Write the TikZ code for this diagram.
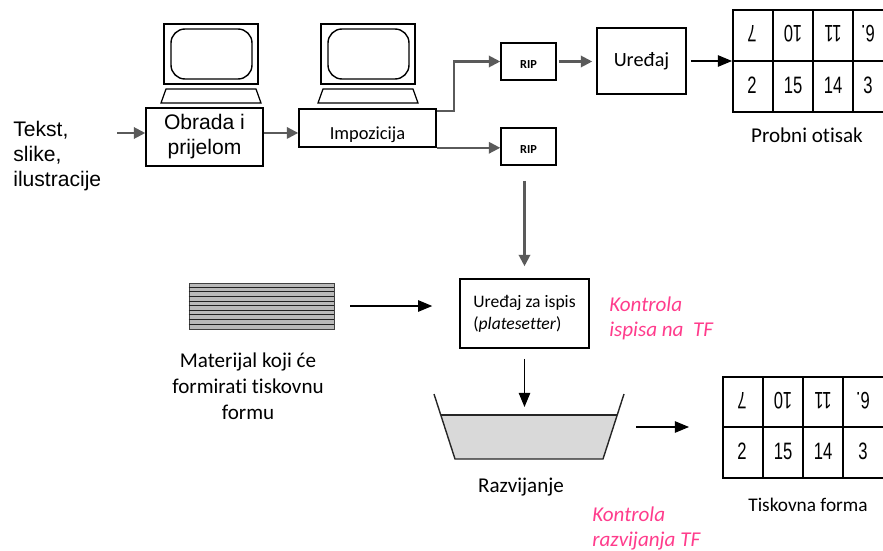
\documentclass[tikz,border=0pt]{standalone}
\usepackage{fontspec}
\setmainfont{Carlito}[Ligatures=NoCommon]
\newfontfamily\arialfont{Liberation Sans}
\usetikzlibrary{arrows.meta}
\definecolor{notepink}{RGB}{255,60,140}
\definecolor{arrowgray}{RGB}{90,90,90}
\begin{document}
\begin{tikzpicture}[x=0.02cm, y=-0.02cm,
  box/.style={draw, line width=0.9pt, inner sep=0pt},
  gray arrow/.style={arrowgray, line width=1.2pt, -{Triangle[length=6.5pt,width=6.5pt]}},
  black arrow/.style={line width=0.6pt, -{Triangle[length=8pt,width=6.5pt]}},
  digit/.style={font=\arialfont\fontsize{13.5}{13.5}\selectfont, xscale=0.7, inner sep=0pt},
  note/.style={font=\itshape\fontsize{12}{14.2}\selectfont, text=notepink, align=left, anchor=west, inner sep=0pt},
  caption/.style={font=\fontsize{12}{14.8}\selectfont, inner sep=0pt}]
  \clip (0,0) rectangle (883,551);
  \foreach \m in {0,157} {
    \draw[line width=0.7pt] ({164+\m},24) rectangle ({258+\m},84);
    \draw[line width=0.8pt, rounded corners=0.28cm] ({171+\m},29) rectangle ({252+\m},79);
    \draw[line width=0.7pt] ({166+\m},89) -- ({256+\m},89) -- ({261+\m},103) -- ({161+\m},103) -- cycle;
  }
  \node[anchor=west, align=left, inner sep=0pt, font=\arialfont\fontsize{12}{14.2}\selectfont] (tekst) at (13,156) {Tekst,\\slike,\\ilustracije};
  \node[box, minimum width=2.34cm, minimum height=1.16cm, align=center, font=\arialfont\fontsize{12}{14.2}\selectfont] (obrada) at (204.5,137) {Obrada i\\prijelom};
  \node[box, minimum width=2.74cm, minimum height=0.76cm, font=\fontsize{10.5}{12}\selectfont] (imp) at (367.5,128) {\raisebox{-4pt}[0.7em][0.2em]{Impozicija}};
  \node[box, minimum width=1.1cm, minimum height=0.74cm, font=\bfseries\fontsize{7}{8}\selectfont] (rip1) at (528.5,61.5) {\raisebox{-2pt}[0.7em][0.2em]{RIP}\hspace{6pt}};
  \node[box, minimum width=1.1cm, minimum height=0.74cm, font=\bfseries\fontsize{7}{8}\selectfont] (rip2) at (528.5,146.5) {\raisebox{-2pt}[0.7em][0.2em]{RIP}\hspace{6pt}};
  \node[box, minimum width=1.78cm, minimum height=1.32cm, font=\fontsize{11.5}{13}\selectfont] (uredjaj) at (641.5,61) {Uređaj};
  \node[box, anchor=north west, minimum width=3.4cm, minimum height=2.04cm] (proba) at (732,9) {};
  \draw[line width=0.9pt] (proba.west) -- (proba.east);
  \foreach \c in {773,813,853} \draw[line width=0.9pt] (proba.north -| \c,0) -- (proba.south -| \c,0);
  \foreach \v/\x in {7/752,10/793,11/833,6./868} \node[digit, rotate=180] (pg\x) at (\x,34) {\v};
  \foreach \v/\x in {2/752,15/793,14/833,3/868} \node[digit] (pd\x) at (\x,85) {\v};
  \node[caption] (probni) at (807,135) {Probni otisak};

  \node[box, minimum width=2.58cm, minimum height=1.38cm, align=left, font=\fontsize{10}{12.5}\selectfont] (pset) at (524.5,313.5) {Uređaj za ispis\\(\textit{platesetter})};
  \node[note] (kontrola1) at (609,318.5) {Kontrola\\ispisa na\ \ TF};
  \node[draw=gray!50!black, fill=gray!55, minimum width=2.9cm, minimum height=0.92cm, inner sep=0pt] (plate) at (261.5,306) {};
  \foreach \k in {1,...,9} \draw[gray!25!black, line width=0.5pt] ([yshift=-\k*0.092cm]plate.north west) -- ([yshift=-\k*0.092cm]plate.north east);
  \node[caption, align=center] (materijal) at (248,386) {Materijal koji će\\formirati tiskovnu\\formu};

  \fill[gray!30] (441,415) -- (617,415) -- (603,459) -- (455,459) -- cycle;
  \draw[line width=0.8pt, gray!30!black] (434,394) -- (455,459) -- (603,459) -- (624,394);
  \draw[line width=0.8pt, gray!30!black] (441,415) -- (617,415);
  \coordinate (kada) at (524.5,415);
  \coordinate (kadadesno) at (636,427);
  \node[caption] (razvijanje) at (521,487) {Razvijanje};
  \node[note] (kontrola2) at (592,528.5) {Kontrola\\razvijanja TF};

  \node[box, anchor=north west, minimum width=3.4cm, minimum height=2.02cm] (forma) at (722,376) {};
  \draw[line width=0.9pt] (forma.west) -- (forma.east);
  \foreach \c in {763,803,843} \draw[line width=0.9pt] (forma.north -| \c,0) -- (forma.south -| \c,0);
  \foreach \v/\x in {7/742,10/783,11/823,6./863} \node[digit, rotate=180] (fg\x) at (\x,401) {\v};
  \foreach \v/\x in {2/742,15/783,14/823,3/863} \node[digit] (fd\x) at (\x,451) {\v};
  \node[caption, font=\fontsize{11}{13}\selectfont] (tiskovna) at (808,505) {Tiskovna forma};

  \coordinate (ulaz) at (117,133);
  \draw[gray arrow] (ulaz) -- (ulaz -| obrada.west);
  \draw[gray arrow] ([yshift=2.3pt]obrada.east) -- ([yshift=2.3pt]obrada.east -| imp.west);
  \draw[gray arrow] ([yshift=-1.7pt]imp.north east) -- ++(17,0) |- (rip1.west);
  \draw[gray arrow] (imp.south east) -- (imp.south east -| rip2.west);
  \draw[gray arrow, shorten <=0.04cm, shorten >=0.08cm] (rip1.east) -- (rip1.east -| uredjaj.west);
  \draw[black arrow, shorten <=0.08cm] (uredjaj.east) -- (uredjaj.east -| proba.west);
  \draw[gray arrow, shorten <=0.3cm, shorten >=0.24cm] (rip2.south -| pset.north) -- (pset.north);
  \draw[black arrow, shorten <=0.32cm, shorten >=0.54cm] (plate.east) -- (plate.east -| pset.west);
  \draw[black arrow, shorten <=0.2cm, shorten >=0.16cm] (pset.south) -- (kada);
  \draw[black arrow, shorten >=0.66cm] (kadadesno) -- (kadadesno -| forma.west);
\end{tikzpicture}
\end{document}
